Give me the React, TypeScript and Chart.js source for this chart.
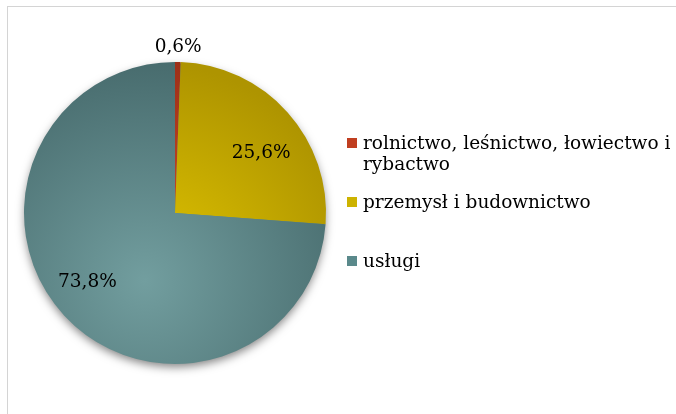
import React, { useEffect, useRef } from "react";
import { Chart, registerables } from "chart.js";

Chart.register(...registerables);

// ---- data ----
const categories: string[] = [
  "rolnictwo, leśnictwo, łowiectwo i rybactwo",
  "przemysł i budownictwo",
  "usługi",
];
const values: number[] = [0.6, 25.6, 73.8];

// ---- styles ----
const lightColors: string[] = ["#d4502a", "#e2c600", "#729e9f"];
const darkColors: string[] = ["#9e2f18", "#ae9400", "#486c6e"];
const legendColors: string[] = ["#c03e20", "#cdb300", "#5a898b"];
const labelRadiusFactor: number[] = [1.1, 0.695, 0.74];
const labelAngleShiftDeg: number[] = [0, 7, 4.5];

const FONT = "'DejaVu Serif', serif";

const formatPct = (v: number) => v.toFixed(1).replace(".", ",") + "%";

const shadowPlugin = {
  id: "pieShadow",
  beforeDatasetsDraw(chart: any) {
    const meta = chart.getDatasetMeta(0);
    if (!meta.data.length) return;
    const arc: any = meta.data[0];
    const { x, y, outerRadius } = arc.getProps(["x", "y", "outerRadius"], true);
    const ctx = chart.ctx;
    ctx.save();
    ctx.shadowColor = "rgba(0,0,0,0.5)";
    ctx.shadowBlur = 10;
    ctx.shadowOffsetX = 0;
    ctx.shadowOffsetY = 4;
    ctx.beginPath();
    ctx.arc(x, y, outerRadius - 1, 0, Math.PI * 2);
    ctx.fillStyle = "#5a8688";
    ctx.fill();
    ctx.restore();
  },
};

const labelPlugin = {
  id: "pieLabels",
  afterDatasetsDraw(chart: any) {
    const meta = chart.getDatasetMeta(0);
    const ctx = chart.ctx;
    ctx.save();
    ctx.font = `18.5px ${FONT}`;
    ctx.fillStyle = "#000000";
    ctx.textAlign = "center";
    ctx.textBaseline = "middle";
    meta.data.forEach((arc: any, i: number) => {
      const { x, y, startAngle, endAngle, outerRadius } = arc.getProps(
        ["x", "y", "startAngle", "endAngle", "outerRadius"],
        true
      );
      const mid = (startAngle + endAngle) / 2 + (labelAngleShiftDeg[i] * Math.PI) / 180;
      const rr = outerRadius * labelRadiusFactor[i];
      ctx.fillText(formatPct(values[i]), x + Math.cos(mid) * rr, y + Math.sin(mid) * rr);
    });
    ctx.restore();
  },
};

function PieChart() {
  const ref = useRef<HTMLCanvasElement | null>(null);
  useEffect(() => {
    if (!ref.current) return;
    const chart = new Chart(ref.current, {
      type: "pie",
      data: {
        labels: categories,
        datasets: [
          {
            data: values,
            borderWidth: 0,
            backgroundColor: (c: any) => {
              const i = c.dataIndex;
              const chartObj = c.chart;
              const area = chartObj.chartArea;
              if (!area) return legendColors[i];
              const cx = (area.left + area.right) / 2;
              const cy = (area.top + area.bottom) / 2;
              const r = Math.min(area.right - area.left, area.bottom - area.top) / 2;
              const fx = cx - 0.2 * r;
              const fy = cy + 0.45 * r;
              const g = chartObj.ctx.createRadialGradient(fx, fy, 0, fx, fy, 1.45 * r);
              g.addColorStop(0, lightColors[i]);
              g.addColorStop(1, darkColors[i]);
              return g;
            },
          },
        ],
      },
      options: {
        responsive: false,
        animation: false,
        devicePixelRatio: 1,
        layout: { padding: { left: 24, top: 62, right: 350, bottom: 50 } },
        plugins: {
          legend: { display: false },
          tooltip: { enabled: false },
        },
      },
      plugins: [shadowPlugin, labelPlugin],
    });
    return () => chart.destroy();
  }, []);
  return (
    <canvas
      ref={ref}
      width={676}
      height={414}
      style={{ position: "fixed", left: 0, top: 0, width: 676, height: 414 }}
    />
  );
}

export default function App() {
  return (
    <div>
      <div
        style={{
          position: "fixed",
          left: 7,
          top: 6,
          right: 0,
          bottom: 0,
          borderLeft: "1px solid #d4d4d4",
          borderTop: "1px solid #d4d4d4",
          background: "#ffffff",
        }}
      />
      <PieChart />
      <div
        style={{
          position: "fixed",
          left: 347,
          top: 132,
          width: 329,
          fontFamily: FONT,
          fontSize: 18.5,
          lineHeight: "21px",
          color: "#000",
        }}
      >
        {categories.map((cat, i) => (
          <div key={cat} style={{ position: "relative", height: 59 }}>
            <span
              style={{
                position: "absolute",
                left: 0,
                top: 6,
                width: 10,
                height: 10,
                background: legendColors[i],
              }}
            />
            <div style={{ marginLeft: 16, width: 313 }}>{cat}</div>
          </div>
        ))}
      </div>
    </div>
  );
}
